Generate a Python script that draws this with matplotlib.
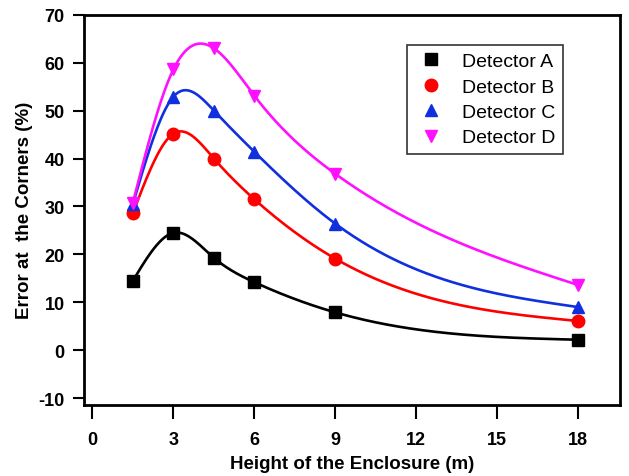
import numpy as np
import matplotlib
matplotlib.use("Agg")
from matplotlib import pyplot as plt

plt.rcParams["font.family"] = ["Liberation Sans", "DejaVu Sans"]
plt.rcParams["axes.unicode_minus"] = False

# data
height = [1.5, 3, 4.5, 6, 9, 18]
det_a = [14.5, 24.5, 19.3, 14.2, 7.9, 2.2]
det_b = [28.6, 45.2, 40.0, 31.5, 19.1, 6.1]
det_c = [30.5, 52.9, 50.0, 41.4, 26.4, 9.0]
det_d = [30.8, 58.6, 63.0, 53.1, 36.8, 13.6]

labels = ["Detector A", "Detector B", "Detector C", "Detector D"]
colors = ["black", "#ff0000", "#1030e0", "#ff10ff"]
markers = ["s", "o", "^", "v"]
x_ticks = [0, 3, 6, 9, 12, 15, 18]
y_ticks = [-10, 0, 10, 20, 30, 40, 50, 60, 70]


def natural_spline(x, y, xs):
    # plain natural cubic spline, just for the smooth line through the points
    x = np.asarray(x, float)
    y = np.asarray(y, float)
    n = len(x)
    h = np.diff(x)
    A = np.zeros((n, n))
    r = np.zeros(n)
    A[0, 0] = 1
    A[-1, -1] = 1
    for i in range(1, n - 1):
        A[i, i - 1] = h[i - 1]
        A[i, i] = 2 * (h[i - 1] + h[i])
        A[i, i + 1] = h[i]
        r[i] = 6 * ((y[i + 1] - y[i]) / h[i] - (y[i] - y[i - 1]) / h[i - 1])
    m = np.linalg.solve(A, r)
    idx = np.clip(np.searchsorted(x, xs) - 1, 0, n - 2)
    t0 = x[idx]
    t1 = x[idx + 1]
    hh = h[idx]
    a = (t1 - xs) / hh
    b = (xs - t0) / hh
    return (a * y[idx] + b * y[idx + 1]
            + ((a ** 3 - a) * m[idx] + (b ** 3 - b) * m[idx + 1]) * hh ** 2 / 6)


fig = plt.figure(figsize=(6.29, 4.77), dpi=100)
ax = fig.add_axes([0.134, 0.149, 0.852, 0.818])

xs = np.linspace(height[0], height[-1], 400)
for vals, lab, c, mk in zip([det_a, det_b, det_c, det_d], labels, colors, markers):
    ax.plot(xs, natural_spline(height, vals, xs), color=c, lw=1.9)
    ax.plot(height, vals, linestyle="none", marker=mk, color=c, ms=9, label=lab)

ax.set_xlim(-0.3, 19.55)
ax.set_ylim(-11.4, 70)
ax.set_xticks(x_ticks)
ax.set_yticks(y_ticks)
ax.tick_params(direction="out", length=8, width=1.5, labelsize=13, pad=6)
ax.tick_params(axis="x", length=10, pad=9)
for lbl in ax.get_xticklabels() + ax.get_yticklabels():
    lbl.set_fontweight("bold")
for s in ax.spines.values():
    s.set_linewidth(2)

ax.set_xlabel("Height of the Enclosure (m)", fontsize=13.5, fontweight="bold", labelpad=5)
ax.set_ylabel("Error at  the Corners (%)", fontsize=13.5, fontweight="bold", labelpad=4)

leg = ax.legend(loc="upper left", bbox_to_anchor=(0.603, 0.923), fontsize=14,
                frameon=True, fancybox=False, edgecolor="black", handletextpad=0.8,
                borderpad=0.4, labelspacing=0.4, handlelength=1.6, borderaxespad=0)
leg.get_frame().set_linewidth(1.2)

plt.savefig("out.png")
plt.close()
